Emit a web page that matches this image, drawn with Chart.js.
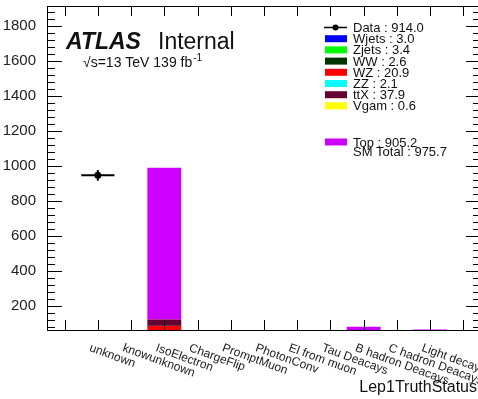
<!DOCTYPE html>
<html><head><meta charset="utf-8">
<script src="https://cdn.jsdelivr.net/npm/chart.js@4/dist/chart.umd.min.js"></script>
<style>html,body{margin:0;padding:0;background:#fff;overflow:hidden;width:478px;height:399px}
#wrap{position:relative;width:484px;height:399px}</style></head>
<body><div id="wrap"><canvas id="c" width="484" height="399"></canvas></div>
<script>
// ---- data ----
const categories = ["", "unknown", "knowunknown", "IsoElectron", "ChargeFlip", "PromptMuon", "PhotonConv", "El from muon", "Tau Deacays", "B hadron Deacays", "C hadron Deacays", "Light decays", ""];
const dataCounts = [null, 945, null, null, null, null, null, null, null, null, null, null, null];
const wjets = [0, 0, 0, 3.0, 0, 0, 0, 0, 0, 0, 0, 0, 0];
const zjets = [0, 0, 0, 3.4, 0, 0, 0, 0, 0, 0, 0, 0, 0];
const ww    = [0, 0, 0, 2.6, 0, 0, 0, 0, 0, 0, 0, 0, 0];
const wz    = [0, 0, 0, 76, 0, 0, 0, 0, 0, 0, 0, 0, 0];
const zz    = [0, 0, 0, 0, 0, 0, 0, 0, 0, 0, 0, 0, 0];
const ttx   = [0, 0, 0, 34, 0, 0, 0, 0, 0, 0, 0, 0, 0];
const vgam  = [0, 0, 0, 0, 0, 0, 0, 0, 0, 0, 0, 0, 0];
const topSeries = [0, 0, 0, 868, 0, 0, 0, 0, 0, 78, 0, 63.5, 0];
const yTicks = [200, 400, 600, 800, 1000, 1200, 1400, 1600, 1800];
const yMin = 62, yMax = 1912;
const legendNames = ["Data : 914.0", "Wjets : 3.0", "Zjets : 3.4", "WW : 2.6", "WZ : 20.9", "ZZ : 2.1", "ttX : 37.9", "Vgam : 0.6", "Top : 905.2", "SM Total : 975.7"];
const xTitle = "Lep1TruthStatus";

const series = [
  {label: "Wjets", data: wjets, color: "#0000ff"},
  {label: "Zjets", data: zjets, color: "#00ff00"},
  {label: "WW", data: ww, color: "#003300"},
  {label: "WZ", data: wz, color: "#ff0000"},
  {label: "ZZ", data: zz, color: "#00ffff"},
  {label: "ttX", data: ttx, color: "#660033"},
  {label: "Vgam", data: vgam, color: "#ffff00"},
  {label: "Top", data: topSeries, color: "#cc00ff"}
];

const FONT = "'Liberation Sans', Arial, Helvetica, sans-serif";

const rootStyle = {
  id: 'rootStyle',
  afterDatasetsDraw(chart) {
    const ctx = chart.ctx;
    const xs = chart.scales.x, ys = chart.scales.y;
    const meta = chart.getDatasetMeta(chart.data.datasets.length - 1);
    const half = (xs.right - xs.left) / categories.length / 2;
    ctx.save();
    ctx.strokeStyle = '#000'; ctx.lineWidth = 2;
    meta.data.forEach((pt, i) => {
      const v = dataCounts[i];
      if (v == null) return;
      const e = Math.sqrt(v);
      ctx.beginPath();
      ctx.moveTo(pt.x - half, pt.y); ctx.lineTo(pt.x + half, pt.y);
      ctx.moveTo(pt.x, ys.getPixelForValue(v + e)); ctx.lineTo(pt.x, ys.getPixelForValue(v - e));
      ctx.stroke();
    });
    ctx.restore();
  },
  afterDraw(chart) {
    const ctx = chart.ctx;
    const a = chart.chartArea;
    const xs = chart.scales.x, ys = chart.scales.y;
    ctx.save();
    ctx.strokeStyle = '#000'; ctx.lineWidth = 1;
    ctx.strokeRect(a.left - 0.5, a.top + 0.5, a.right - a.left, a.bottom - a.top);
    ctx.beginPath();
    for (let v = 80; v < yMax; v += 40) {
      if (v < yMin) continue;
      const y = Math.round(ys.getPixelForValue(v)) + 0.5;
      const len = (v % 200 === 0) ? 14 : 7;
      ctx.moveTo(a.left, y); ctx.lineTo(a.left + len, y);
      ctx.moveTo(a.right, y); ctx.lineTo(a.right - len, y);
    }
    for (let i = 0; i < categories.length; i++) {
      const x = Math.round(xs.getPixelForValue(i)) + 0.5;
      ctx.moveTo(x, a.bottom); ctx.lineTo(x, a.bottom - 10);
      ctx.moveTo(x, a.top); ctx.lineTo(x, a.top + 10);
    }
    ctx.stroke();

    // rotated x labels
    ctx.fillStyle = '#222';
    ctx.font = "12px " + FONT;
    ctx.textAlign = 'left'; ctx.textBaseline = 'top';
    categories.forEach((c, i) => {
      if (!c) return;
      const x = xs.getPixelForValue(i) - 6;
      ctx.save();
      ctx.translate(x, 342);
      ctx.rotate(20 * Math.PI / 180);
      ctx.fillText(c, 0, 0);
      ctx.restore();
    });
    // x title
    ctx.fillStyle = '#111';
    ctx.textAlign = 'right'; ctx.textBaseline = 'alphabetic';
    ctx.font = "16px " + FONT;
    ctx.fillText(xTitle, 477, 392);

    // ATLAS label
    ctx.textAlign = 'left';
    ctx.font = "italic bold 23px " + FONT;
    ctx.fillText("ATLAS", 66, 49);
    ctx.font = "23px " + FONT;
    ctx.fillText("Internal", 158, 49);
    ctx.font = "14px " + FONT;
    ctx.fillText("\u221As=13 TeV 139 fb", 83, 67);
    const w = ctx.measureText("\u221As=13 TeV 139 fb").width;
    ctx.font = "10px " + FONT;
    ctx.fillText("-1", 83 + w + 1, 61);

    // legend
    const rows = [27.5, 38.7, 49.9, 61.1, 72.3, 83.5, 94.7, 105.9];
    ctx.font = "13px " + FONT;
    ctx.textBaseline = 'middle';
    ctx.strokeStyle = '#000'; ctx.lineWidth = 1.5;
    ctx.fillStyle = '#000';
    ctx.beginPath(); ctx.moveTo(324, rows[0]); ctx.lineTo(347, rows[0]); ctx.stroke();
    ctx.beginPath(); ctx.arc(335.5, rows[0], 3, 0, Math.PI * 2); ctx.fill();
    ctx.fillStyle = '#111';
    ctx.fillText(legendNames[0], 353, rows[0] + 1);
    for (let k = 0; k < 7; k++) {
      ctx.fillStyle = series[k].color;
      ctx.fillRect(325, rows[k + 1] - 3.5, 22, 7);
      ctx.fillStyle = '#111';
      ctx.fillText(legendNames[k + 1], 353, rows[k + 1] + 1);
    }
    ctx.fillStyle = series[7].color;
    ctx.fillRect(325, 138.5, 22, 7);
    ctx.fillStyle = '#111';
    ctx.fillText(legendNames[8], 353, 143);
    ctx.fillText(legendNames[9], 353, 152);
    ctx.restore();
  }
};

const datasets = series.map(s => ({
  type: 'bar', label: s.label, data: s.data, backgroundColor: s.color,
  borderWidth: 0, barPercentage: 1, categoryPercentage: 1, stack: 'mc', order: 1
}));
datasets.push({
  type: 'line', label: 'Data', data: dataCounts, showLine: false, stack: 'obs', order: 0,
  pointRadius: 3.5, pointBackgroundColor: '#000', pointBorderColor: '#000', pointBorderWidth: 0
});

new Chart(document.getElementById('c'), {
  type: 'bar',
  data: {labels: categories, datasets},
  options: {
    responsive: false, animation: false, devicePixelRatio: 1,
    layout: {padding: {left: 0, top: 6, right: 2, bottom: 0}},
    plugins: {legend: {display: false}, tooltip: {enabled: false}},
    scales: {
      x: {stacked: true, grid: {display: false}, border: {display: false},
          ticks: {display: false},
          afterFit: s => { s.height = 69; s.paddingLeft = 0; s.paddingRight = 0; }},
      y: {stacked: true, min: yMin, max: yMax,
          grid: {display: false}, border: {display: false},
          afterBuildTicks: s => { s.ticks = yTicks.map(v => ({value: v})); },
          ticks: {color: '#222', font: {size: 15, family: FONT}, padding: 4,
                  callback: v => String(v)},
          afterFit: s => { s.width = 48; s.paddingTop = 0; s.paddingBottom = 0; }}
    }
  },
  plugins: [rootStyle]
});
</script>
</body></html>
